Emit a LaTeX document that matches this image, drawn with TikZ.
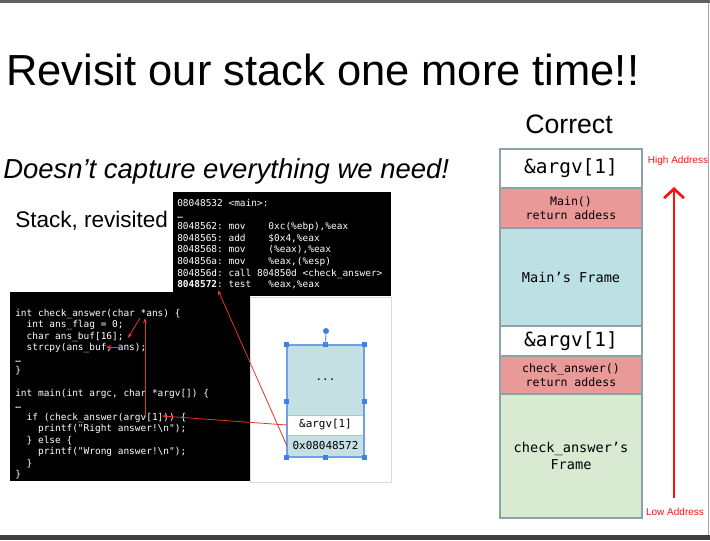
\documentclass[tikz,border=0pt]{standalone}
\usepackage{fontspec}
\setmainfont{Liberation Sans}
\newfontfamily\codefont{DejaVu Sans Mono}
\usetikzlibrary{positioning,arrows.meta,calc,fit}
\definecolor{frameTeal}{HTML}{8AA3A6}
\definecolor{retPink}{HTML}{EA9999}
\definecolor{frameBlue}{HTML}{BDE0E4}
\definecolor{frameGreen}{HTML}{D9EAD3}
\definecolor{miniBlue}{HTML}{C4E0E3}
\definecolor{miniEdge}{HTML}{A9C6CA}
\definecolor{selBlue}{HTML}{3F7FE6}
\definecolor{selEdge}{HTML}{6F9EEA}
\definecolor{linkRed}{HTML}{E0382C}
\definecolor{addrRed}{HTML}{FF1010}

\begin{document}
\begin{tikzpicture}[x=0.75pt, y=-0.75pt, >=Stealth,
    codeline/.style={anchor=base west, inner sep=0pt, text=white, font=\codefont\fontsize{7.1}{8.5}\selectfont},
    cell/.style={draw=frameTeal, line width=1.5pt, outer sep=0pt, inner sep=1pt, minimum width=106.5pt, align=center, font=\codefont\fontsize{8.7}{10.5}\selectfont},
    minicell/.style={draw=miniEdge, line width=0.6pt, outer sep=0pt, inner sep=0pt, minimum width=57.75pt, font=\codefont\fontsize{8.2}{9}\selectfont},
    link/.style={->, draw=linkRed, line width=0.6pt, >={Stealth[length=4pt,width=3pt]}},
    addrlabel/.style={text=addrRed, font=\fontsize{7.5}{9}\selectfont, inner sep=0pt}]
  \useasboundingbox (0,0) rectangle (710,540);
  % window edges
  \fill[black!62] (0,0) rectangle (710,2.5);
  \fill[black!75] (0,535) rectangle (710,540);
  \draw[black!35, line width=1pt] (708.5,2.5) -- (708.5,535);

  % headings
  \node[anchor=base west, inner sep=0pt, font=\fontsize{32.6}{38}\selectfont] (title) at (6,85) {Revisit our stack one more time!!};
  \node[anchor=base west, inner sep=0pt, font=\fontsize{20.6}{24}\selectfont\itshape] (lack) at (3,178) {Doesn’t capture everything we need!};
  \node[anchor=base west, inner sep=0pt, font=\fontsize{16.9}{20}\selectfont] (revisited) at (15,227) {Stack, revisited};
  \node[anchor=base, inner sep=0pt, font=\fontsize{20}{24}\selectfont] (correct) at (569,133) {Correct};

  % screenshot panels
  \filldraw[fill=white, draw=black!15] (250,297) rectangle (391,482);
  \fill[black] (10,292) rectangle (250,481);
  \fill[black] (173,192) rectangle (391,296);

  \node[codeline] (d0) at (177,206.4) {08048532 <main>:};
  \node[codeline] (d1) at (177,218.0) {…};
  \node[codeline] (d2) at (177,229.6) {8048562:~mov~~~~0xc(\%ebp),\%eax};
  \node[codeline] (d3) at (177,241.2) {8048565:~add~~~~\$0x4,\%eax};
  \node[codeline] (d4) at (177,252.8) {8048568:~mov~~~~(\%eax),\%eax};
  \node[codeline] (d5) at (177,264.4) {804856a:~mov~~~~\%eax,(\%esp)};
  \node[codeline] (d6) at (177,276.0) {804856d:~call~804850d <check\_answer>};
  \node[codeline] (d7) at (177,287.6) {{\bfseries 8048572}:~test~~~\%eax,\%eax};

  \node[codeline] (c0) at (15,316.1) {int check\_answer(char *ans) \{};
  \node[codeline] (c1) at (15,327.6) {~~int ans\_flag = 0;};
  \node[codeline] (c2) at (15,339.2) {~~char ans\_buf[16];};
  \node[codeline] (c3) at (15,350.7) {~~strcpy(ans\_buf, ans);};
  \node[codeline] (c4) at (15,362.3) {…};
  \node[codeline] (c5) at (15,373.8) {\}};
  \node[codeline] (c7) at (15,396.9) {int main(int argc, char *argv[]) \{};
  \node[codeline] (c8) at (15,408.5) {…};
  \node[codeline] (c9) at (15,420.0) {~~if (check\_answer(argv[1])) \{};
  \node[codeline] (c10) at (15,431.6) {~~~~printf("Right answer!\textbackslash n");};
  \node[codeline] (c11) at (15,443.1) {~~\} else \{};
  \node[codeline] (c12) at (15,454.7) {~~~~printf("Wrong answer!\textbackslash n");};
  \node[codeline] (c13) at (15,466.2) {~~\}};
  \node[codeline] (c14) at (15,477.8) {\}};

  % small stack, selected
  \node[minicell, fill=miniBlue, anchor=north west, minimum height=52.5pt] (dots) at (287,345) {...};
  \node[minicell, fill=white, below=0pt of dots, minimum height=15pt] (argvmini) {\&argv[1]};
  \node[minicell, fill=miniBlue, below=0pt of argvmini, minimum height=16.5pt] (retmini) {0x08048572};
  \node[fit=(dots)(argvmini)(retmini), inner sep=0pt, draw=selEdge, line width=0.8pt] (sel) {};
  \foreach \a in {north west,north,north east,east,south east,south,south west,west}
    \fill[selBlue] ($(sel.\a)+(-2.5,-2.5)$) rectangle ++(5,5);
  \node[circle, fill=selBlue, inner sep=0pt, minimum size=4.5pt] (rot) at (326,331) {};
  \draw[selEdge, line width=0.8pt] (rot) -- (sel.north);

  % where the links point
  \coordinate (argcall) at (162,416);
  \coordinate (retmark) at (218,290);
  \coordinate (argvsrc) at (145,417);
  \coordinate (ansptr) at (145,318);
  \coordinate (ansstar) at (140,318);
  \coordinate (ansuse) at (128,338);
  \coordinate (ansarg) at (119,347);
  \coordinate (bufarg) at (106,347);
  \draw[link] (argvmini.west) -- (argcall);
  \draw[link] (retmini.west) -- (retmark);
  \draw[link] (argvsrc) -- (ansptr);
  \draw[link] (ansstar) -- (ansuse);
  \draw[link] (ansarg) -- (bufarg);

  % correct stack
  \node[cell, fill=white, anchor=north west, minimum height=29.25pt, font=\codefont\fontsize{14.6}{17}\selectfont] (argvtop) at (500,149) {\&argv[1]};
  \node[cell, fill=retPink, below=0pt of argvtop, minimum height=30pt] (mainret) {Main()\\return addess};
  \node[cell, fill=frameBlue, below=0pt of mainret, minimum height=73.5pt, font=\codefont\fontsize{10.2}{12.5}\selectfont] (mainframe) {Main’s Frame};
  \node[cell, fill=white, below=0pt of mainframe, minimum height=22.5pt, font=\codefont\fontsize{14.6}{17}\selectfont] (argvlow) {\&argv[1]};
  \node[cell, fill=retPink, below=0pt of argvlow, minimum height=28.5pt] (checkret) {check\_answer()\\return addess};
  \node[cell, fill=frameGreen, below=0pt of checkret, minimum height=93pt, font=\codefont\fontsize{10.2}{12.5}\selectfont] (checkframe) {check\_answer’s\\Frame};

  % address direction
  \node[addrlabel] (high) at (678,161) {High Address};
  \node[addrlabel] (low) at (675,512) {Low Address};
  \coordinate (lowend) at (674,498);
  \coordinate (highend) at (674,187);
  \draw[addrRed, line width=2pt, -{Straight Barb[length=7pt,width=15pt,line width=2pt]}] (lowend) -- (highend);
\end{tikzpicture}
\end{document}
